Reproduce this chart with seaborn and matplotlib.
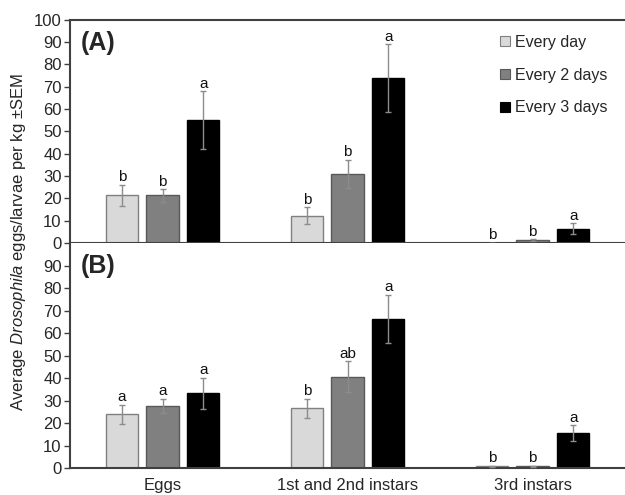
import matplotlib.pyplot as plt
import matplotlib.lines as mlines
import pandas as pd
import seaborn as sns


# --------------------------------------------------
# Data
# --------------------------------------------------

stages = ["Eggs", "1st and 2nd instars", "3rd instars"]
schedules = ["Every day", "Every 2 days", "Every 3 days"]

# panel A: mean per schedule, in stage order
a_day = [21.3, 12.2, 0.0]
a_2days = [21.3, 30.9, 1.3]
a_3days = [55.1, 73.9, 6.4]
a_sem_day = [4.8, 3.8, 0.0]
a_sem_2days = [2.8, 6.3, 0.4]
a_sem_3days = [12.8, 15.1, 2.5]
a_letters_day = ["b", "b", "b"]
a_letters_2days = ["b", "b", "b"]
a_letters_3days = ["a", "a", "a"]

# panel B
b_day = [23.8, 26.5, 0.8]
b_2days = [27.6, 40.6, 0.8]
b_3days = [33.2, 66.4, 15.4]
b_sem_day = [4.3, 4.3, 0.3]
b_sem_2days = [3.1, 6.8, 0.3]
b_sem_3days = [6.8, 10.7, 3.6]
b_letters_day = ["a", "b", "b"]
b_letters_2days = ["a", "ab", "b"]
b_letters_3days = ["a", "a", "a"]

colors = ["#d9d9d9", "#808080", "#000000"]
edges = ["#808080", "#595959", "#000000"]


def make_frame(day, two, three):
    rows = []
    for name, vals in zip(schedules, [day, two, three]):
        for stage, v in zip(stages, vals):
            rows.append({"stage": stage, "schedule": name, "value": v})
    return pd.DataFrame(rows)


sns.set_style("white")
plt.rcParams["font.family"] = ["Liberation Sans", "DejaVu Sans"]
plt.rcParams["mathtext.fontset"] = "custom"
plt.rcParams["mathtext.rm"] = "Liberation Sans"
plt.rcParams["mathtext.it"] = "Liberation Sans:italic"

fig = plt.figure(figsize=(6.25, 4.95), dpi=100)
ax_a = fig.add_axes([0.112, 0.509, 0.888, 0.451])
ax_b = fig.add_axes([0.112, 0.0545, 0.888, 0.4545])

spine_color = "#404040"


# --------------------------------------------------
# Panels
# --------------------------------------------------

def draw_panel(ax, frame, sems, letters, yticks, label):

    sns.barplot(
        data=frame,
        x="stage",
        y="value",
        hue="schedule",
        hue_order=schedules,
        order=stages,
        palette=colors,
        width=0.66,
        gap=0.2,
        errorbar=None,
        legend=False,
        ax=ax
    )

    bar_containers = list(ax.containers)

    for i, cont in enumerate(bar_containers):
        xs = []
        hs = []
        for bar in cont.patches:
            bar.set_edgecolor(edges[i])
            bar.set_linewidth(1.0)
            xs.append(bar.get_x() + bar.get_width() / 2)
            hs.append(bar.get_height())
        ax.errorbar(
            xs, hs, yerr=sems[i], fmt="none",
            ecolor="#8c8c8c", elinewidth=1.0,
            capsize=2.5, capthick=1.0, zorder=5
        )
        for x, h, e, t in zip(xs, hs, sems[i], letters[i]):
            ax.text(x, h + e + 0.3, t, ha="center", va="bottom",
                    fontsize=11, color="#111111")

    ax.set_xlim(-0.5, 2.5)
    ax.set_ylim(0, 100)
    ax.set_yticks(yticks)
    ax.set_xlabel("")
    ax.set_ylabel("")
    ax.tick_params(axis="y", direction="out", length=4, width=1,
                   color=spine_color, labelsize=12, pad=2, left=True)
    ax.tick_params(axis="x", length=0, labelsize=12, pad=7)

    for side in ["left", "bottom", "top"]:
        ax.spines[side].set_color(spine_color)
        ax.spines[side].set_linewidth(1.5)
    ax.spines["right"].set_visible(False)

    ax.text(0.02, 0.95, label, transform=ax.transAxes, fontsize=18,
            fontweight="bold", ha="left", va="top")


draw_panel(
    ax_a,
    make_frame(a_day, a_2days, a_3days),
    [a_sem_day, a_sem_2days, a_sem_3days],
    [a_letters_day, a_letters_2days, a_letters_3days],
    range(0, 101, 10),
    "(A)"
)
ax_a.set_xticklabels([])

draw_panel(
    ax_b,
    make_frame(b_day, b_2days, b_3days),
    [b_sem_day, b_sem_2days, b_sem_3days],
    [b_letters_day, b_letters_2days, b_letters_3days],
    range(0, 91, 10),
    "(B)"
)
ax_b.spines["top"].set_visible(False)

handles = [
    mlines.Line2D([], [], marker="s", linestyle="none", markersize=7,
                  markerfacecolor=c, markeredgecolor=e, markeredgewidth=0.8)
    for c, e in zip(colors, edges)
]
ax_a.legend(
    handles, schedules, loc="upper right", bbox_to_anchor=(0.985, 0.975),
    frameon=False, fontsize=11.5, handlelength=0.6, handletextpad=0.3,
    labelspacing=1.1, borderaxespad=0.2
)

fig.text(0.029, 0.51, r"Average $\it{Drosophila}$ eggs/larvae per kg ±SEM",
         rotation=90, ha="center", va="center", fontsize=12)

fig.savefig("out.png", dpi=100)
plt.close(fig)
